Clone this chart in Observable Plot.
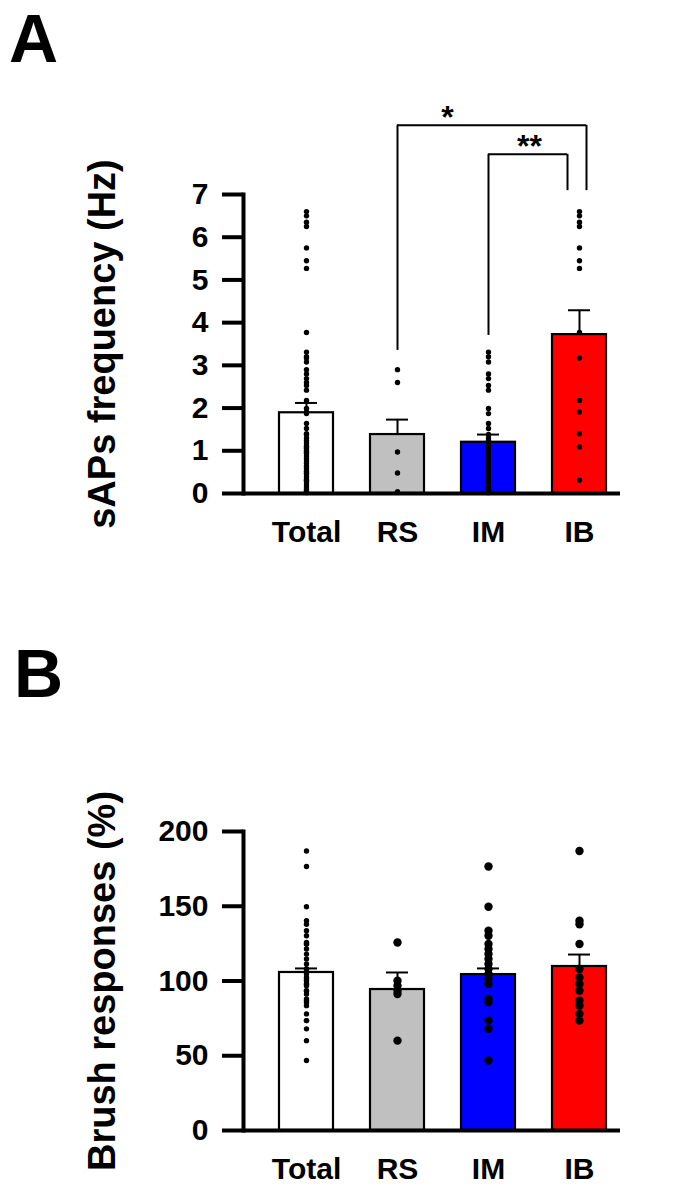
<!DOCTYPE html>
<html><head><meta charset="utf-8">
<script src="https://cdn.jsdelivr.net/npm/d3@7"></script>
<script src="https://cdn.jsdelivr.net/npm/@observablehq/plot@0.6"></script>
<style>
body{margin:0;background:#fff;font-family:"Liberation Sans",Arial,sans-serif;}
#page{position:relative;width:685px;height:1194px;overflow:hidden;background:#fff;}
.panel{position:absolute;left:0;}
.letter{position:absolute;font-weight:bold;font-size:68px;line-height:68px;transform-origin:left top;color:#000;}
</style></head><body><div id="page"></div>
<script>
// ---------- data ----------
const groups = ["Total", "RS", "IM", "IB"];
const barColors = ["#ffffff", "#c0c0c0", "#0000ff", "#ff0000"];

// Panel A: sAPs frequency (Hz)
const meanA = [1.89, 1.38, 1.20, 3.72];
const semA  = [0.23, 0.35, 0.18, 0.57];
const rsA = [2.90, 2.60, 0.97, 0.48, 0.04];
const imA = [3.31, 3.20, 3.08, 2.80, 2.69, 2.53, 2.42, 1.99, 1.87, 1.64, 1.52, 1.38,
             1.30, 1.24, 1.18, 1.12, 1.06, 1.00, 0.94, 0.88, 0.82, 0.76, 0.70, 0.64, 0.58,
             0.52, 0.46, 0.40, 0.34, 0.28, 0.22, 0.16, 0.10, 0.05, 0.02];
const ibA = [6.60, 6.50, 6.35, 6.25, 5.75, 5.45, 5.27, 3.77, 3.17, 2.18, 1.91, 1.40, 1.09, 0.31];
const ticksA = [0, 1, 2, 3, 4, 5, 6, 7];
const comparisonsA = [
  {from: "RS", to: "IB", label: "*",  level: 8.62, fromFoot: 3.35, toFoot: 7.09},
  {from: "IM", to: "IB", label: "**", level: 7.94, fromFoot: 3.70, toFoot: 7.09}
];

// Panel B: Brush responses (%)
const meanB = [105.7, 94.3, 104.3, 109.7];
const semB  = [2.7, 11.4, 4.1, 8.0];
const rsB = [125.8, 100.2, 96.9, 93.5, 91.3, 60.1];
const imB = [176.6, 149.7, 133.6, 130.3, 124.7, 121.4, 118.0, 114.7, 111.4, 108.0, 104.7, 101.3, 98.0, 88.0, 85.7, 73.5, 68.0, 46.8];
const ibB = [187.0, 140.3, 138.0, 124.7, 108.0, 102.4, 98.0, 93.5, 86.9, 83.5, 78.0, 73.5];
const ticksB = [0, 50, 100, 150, 200];

// ---------- build tables ----------
const table = (means, sems) => groups.map((g, i) => ({group: g, mean: means[i], sem: sems[i]}));
const pts = (g, vals) => vals.map(v => ({group: g, value: v}));
const tableA = table(meanA, semA), tableB = table(meanB, semB);
const totalDotsA = pts("Total", [...rsA, ...imA, ...ibA]);
const groupDotsA = [...pts("RS", rsA), ...pts("IM", imA), ...pts("IB", ibA)];
const totalDotsB = pts("Total", [...rsB, ...imB, ...ibB]);
const groupDotsB = [...pts("RS", rsB), ...pts("IM", imB), ...pts("IB", ibB)];

const FONT = "Liberation Sans, Arial, Helvetica, sans-serif";
const bracketStyle = [{rightShift: 7, labelShift: 50}, {rightShift: -12, labelShift: 41}];

function panel({height, marginTop, marginBottom, domain, ticks, tbl, totalDots, groupDots, rTotal, rGroup, title, extra = []}) {
  return Plot.plot({
    width: 685, height, marginLeft: 243, marginRight: 65, marginTop, marginBottom,
    style: {fontFamily: FONT, background: "transparent", color: "black", overflow: "visible"},
    x: {type: "band", domain: groups, range: [279, 606], paddingInner: 0.407, paddingOuter: 0, label: null},
    y: {domain, label: null},
    color: {domain: groups, range: barColors},
    marks: [
      Plot.barY(tbl, {x: "group", y: "mean", fill: "group", stroke: "black", strokeWidth: 2.2}),
      Plot.dot(totalDots, {x: "group", y: "value", r: rTotal, fill: "black"}),
      Plot.dot(groupDots, {x: "group", y: "value", r: rGroup, fill: "black"}),
      Plot.ruleX(tbl, {x: "group", y1: "mean", y2: d => d.mean + d.sem, stroke: "black", strokeWidth: 2}),
      Plot.tickY(tbl, {x: "group", y: d => d.mean + d.sem, stroke: "black", strokeWidth: 2, insetLeft: 16, insetRight: 16}),
      Plot.frame({anchor: "left", stroke: "black", strokeWidth: 4}),
      Plot.ruleY([0], {stroke: "black", strokeWidth: 4}),
      Plot.axisY({ticks, tickSize: 21, tickPadding: 14, stroke: "black", strokeWidth: 4, fontSize: 30, fontWeight: "bold", label: null, tickFormat: d => String(d)}),
      Plot.axisX({tickSize: 0, tickPadding: 27, fontSize: 30, fontWeight: "bold", label: null}),
      Plot.text([title], {text: d => d, frameAnchor: "left", rotate: -90, dx: -129, lineAnchor: "bottom", textAnchor: "middle", fontSize: 38, fontWeight: "bold"}),
      ...extra
    ]
  });
}

const bracketMarks = comparisonsA.flatMap((c, i) => {
  const s = bracketStyle[i];
  return [
    Plot.ruleY([c], {x1: "from", x2: "to", y: "level", insetLeft: 27, insetRight: 27 - s.rightShift, stroke: "black", strokeWidth: 2}),
    Plot.ruleX([c], {x: "from", y1: "fromFoot", y2: "level", stroke: "black", strokeWidth: 2}),
    Plot.ruleX([c], {x: "to", y1: "toFoot", y2: "level", dx: s.rightShift, stroke: "black", strokeWidth: 2}),
    Plot.text([c], {x: "from", y: "level", text: "label", dx: s.labelShift, dy: -8, fontSize: 32, fontWeight: "bold"})
  ];
});

const page = document.getElementById("page");

const a = panel({height: 560, marginTop: 194, marginBottom: 67, domain: [0, 7], ticks: ticksA,
  tbl: tableA, totalDots: totalDotsA, groupDots: groupDotsA, rTotal: 2.7, rGroup: 2.7,
  title: "sAPs frequency (Hz)", extra: bracketMarks});
a.classList.add("panel"); a.style.top = "0px";
page.appendChild(a);

const b = panel({height: 414, marginTop: 51, marginBottom: 64, domain: [0, 200], ticks: ticksB,
  tbl: tableB, totalDots: totalDotsB, groupDots: groupDotsB, rTotal: 2.7, rGroup: 4.2,
  title: "Brush responses (%)"});
b.classList.add("panel"); b.style.top = "780px";
page.appendChild(b);

for (const [txt, left, top] of [["A", 9, 4], ["B", 14, 639]]) {
  const d = document.createElement("div");
  d.className = "letter"; d.textContent = txt;
  d.style.left = left + "px"; d.style.top = top + "px";
  page.appendChild(d);
}
</script></body></html>
